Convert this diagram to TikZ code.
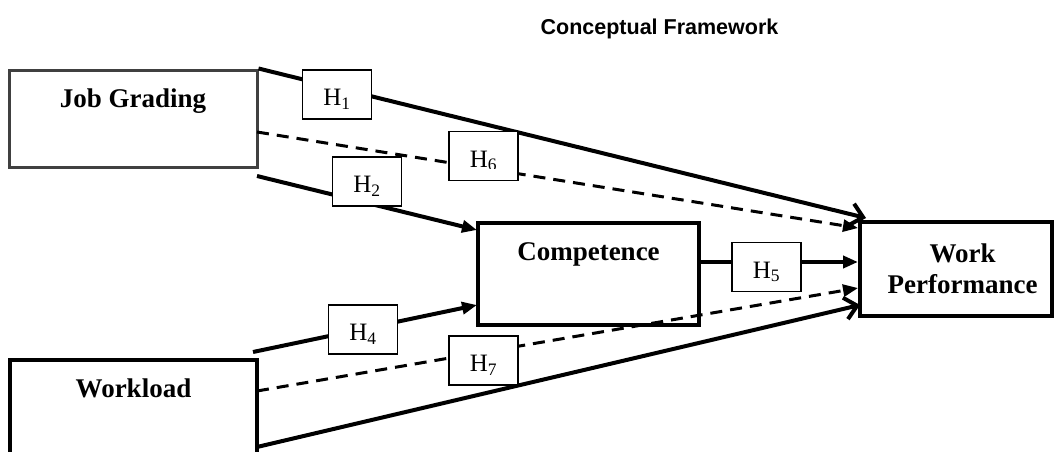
\documentclass[tikz,border=0pt]{standalone}
\usepackage{fontspec}
\setmainfont{Liberation Serif}
\newfontfamily\titlefont{Liberation Sans}
\usetikzlibrary{arrows.meta}
\begin{document}
\begin{tikzpicture}[x=1pt,y=-1pt,
  varbox/.style={draw=black, line width=4pt, rectangle, inner sep=0pt,
    font=\fontsize{27}{31}\selectfont\bfseries, text height=0pt},
  boxtext/.style={font=\fontsize{27}{31}\selectfont\bfseries, align=center, inner sep=0pt},
  htext/.style={font=\fontsize{25}{30}\selectfont, inner sep=0pt, text height=22pt, text depth=0pt},
  hbox/.style={draw=black, line width=1.3pt, fill=white, rectangle, inner sep=0pt,
    minimum width=69pt, minimum height=49pt, htext},
  solidarrow/.style={line width=4pt, -{Triangle[length=15pt,width=12pt]}},
  openarrow/.style={line width=4pt, -{Straight Barb[length=12pt,width=22pt]}},
  dasharrow/.style={line width=3pt, dash pattern=on 12pt off 8pt, -{Triangle[length=15pt,width=12pt]}},
]
\useasboundingbox (0,0) rectangle (1054,452);

% title
\node[font=\titlefont\bfseries\fontsize{21.5}{25}\selectfont, anchor=base, inner sep=0pt] (title) at (659.5,35) {Conceptual Framework};

% variable boxes
\node[varbox, draw=black!75, line width=3pt, minimum width=248pt, minimum height=97pt, text depth=23pt] (jg) at (133,118.5) {Job Grading};
\node[varbox, minimum width=221pt, minimum height=102pt, text depth=28pt] (comp) at (588.5,274) {Competence};
\node[varbox, minimum width=247pt, minimum height=100pt, text depth=26pt] (wl) at (133.5,410) {Workload};
\node[varbox, minimum width=192pt, minimum height=94pt,
  label={[boxtext, xshift=6.5pt]center:Work\\Performance}] (wp) at (956,269) {};

% connector end points
\coordinate (h1e) at (866,218);
\coordinate (h6s) at (257,132);
\coordinate (h6e) at (858,228);
\coordinate (h2s) at (257,176);
\coordinate (h2e) at (477,230);
\coordinate (h4s) at (253,352);
\coordinate (h4e) at (477,305);
\coordinate (h7s) at (257,391);
\coordinate (h7e) at (858,288);
\coordinate (h3s) at (257,447);
\coordinate (h3e) at (860,305);
\coordinate (h5s) at (699,262);
\coordinate (h5e) at (858,262);

% connectors
\draw[openarrow] (jg.north east) -- (h1e);
\draw[dasharrow] (h6s) -- (h6e);
\draw[solidarrow] (h2s) -- (h2e);
\draw[solidarrow] (h4s) -- (h4e);
\draw[dasharrow] (h7s) -- (h7e);
\draw[openarrow] (h3s) -- (h3e);
\draw[solidarrow] (h5s) -- (h5e);

% hypothesis labels
\node[hbox] (H1) at (337,94.5) {H\textsubscript{1}};
\node[hbox] (H2) at (367,181.5) {H\textsubscript{2}};
\node[hbox, path picture={
    \clip (path picture bounding box.north west) rectangle ([yshift=12pt]path picture bounding box.south east);
    \node[htext, draw=none, fill=none] at (path picture bounding box.center) {H\textsubscript{6}};
  }] (H6) at (483.5,156) {};
\node[hbox] (H4) at (363,329.5) {H\textsubscript{4}};
\node[hbox] (H7) at (483.5,360.5) {H\textsubscript{7}};
\node[hbox] (H5) at (766.5,267) {H\textsubscript{5}};
\end{tikzpicture}
\end{document}
